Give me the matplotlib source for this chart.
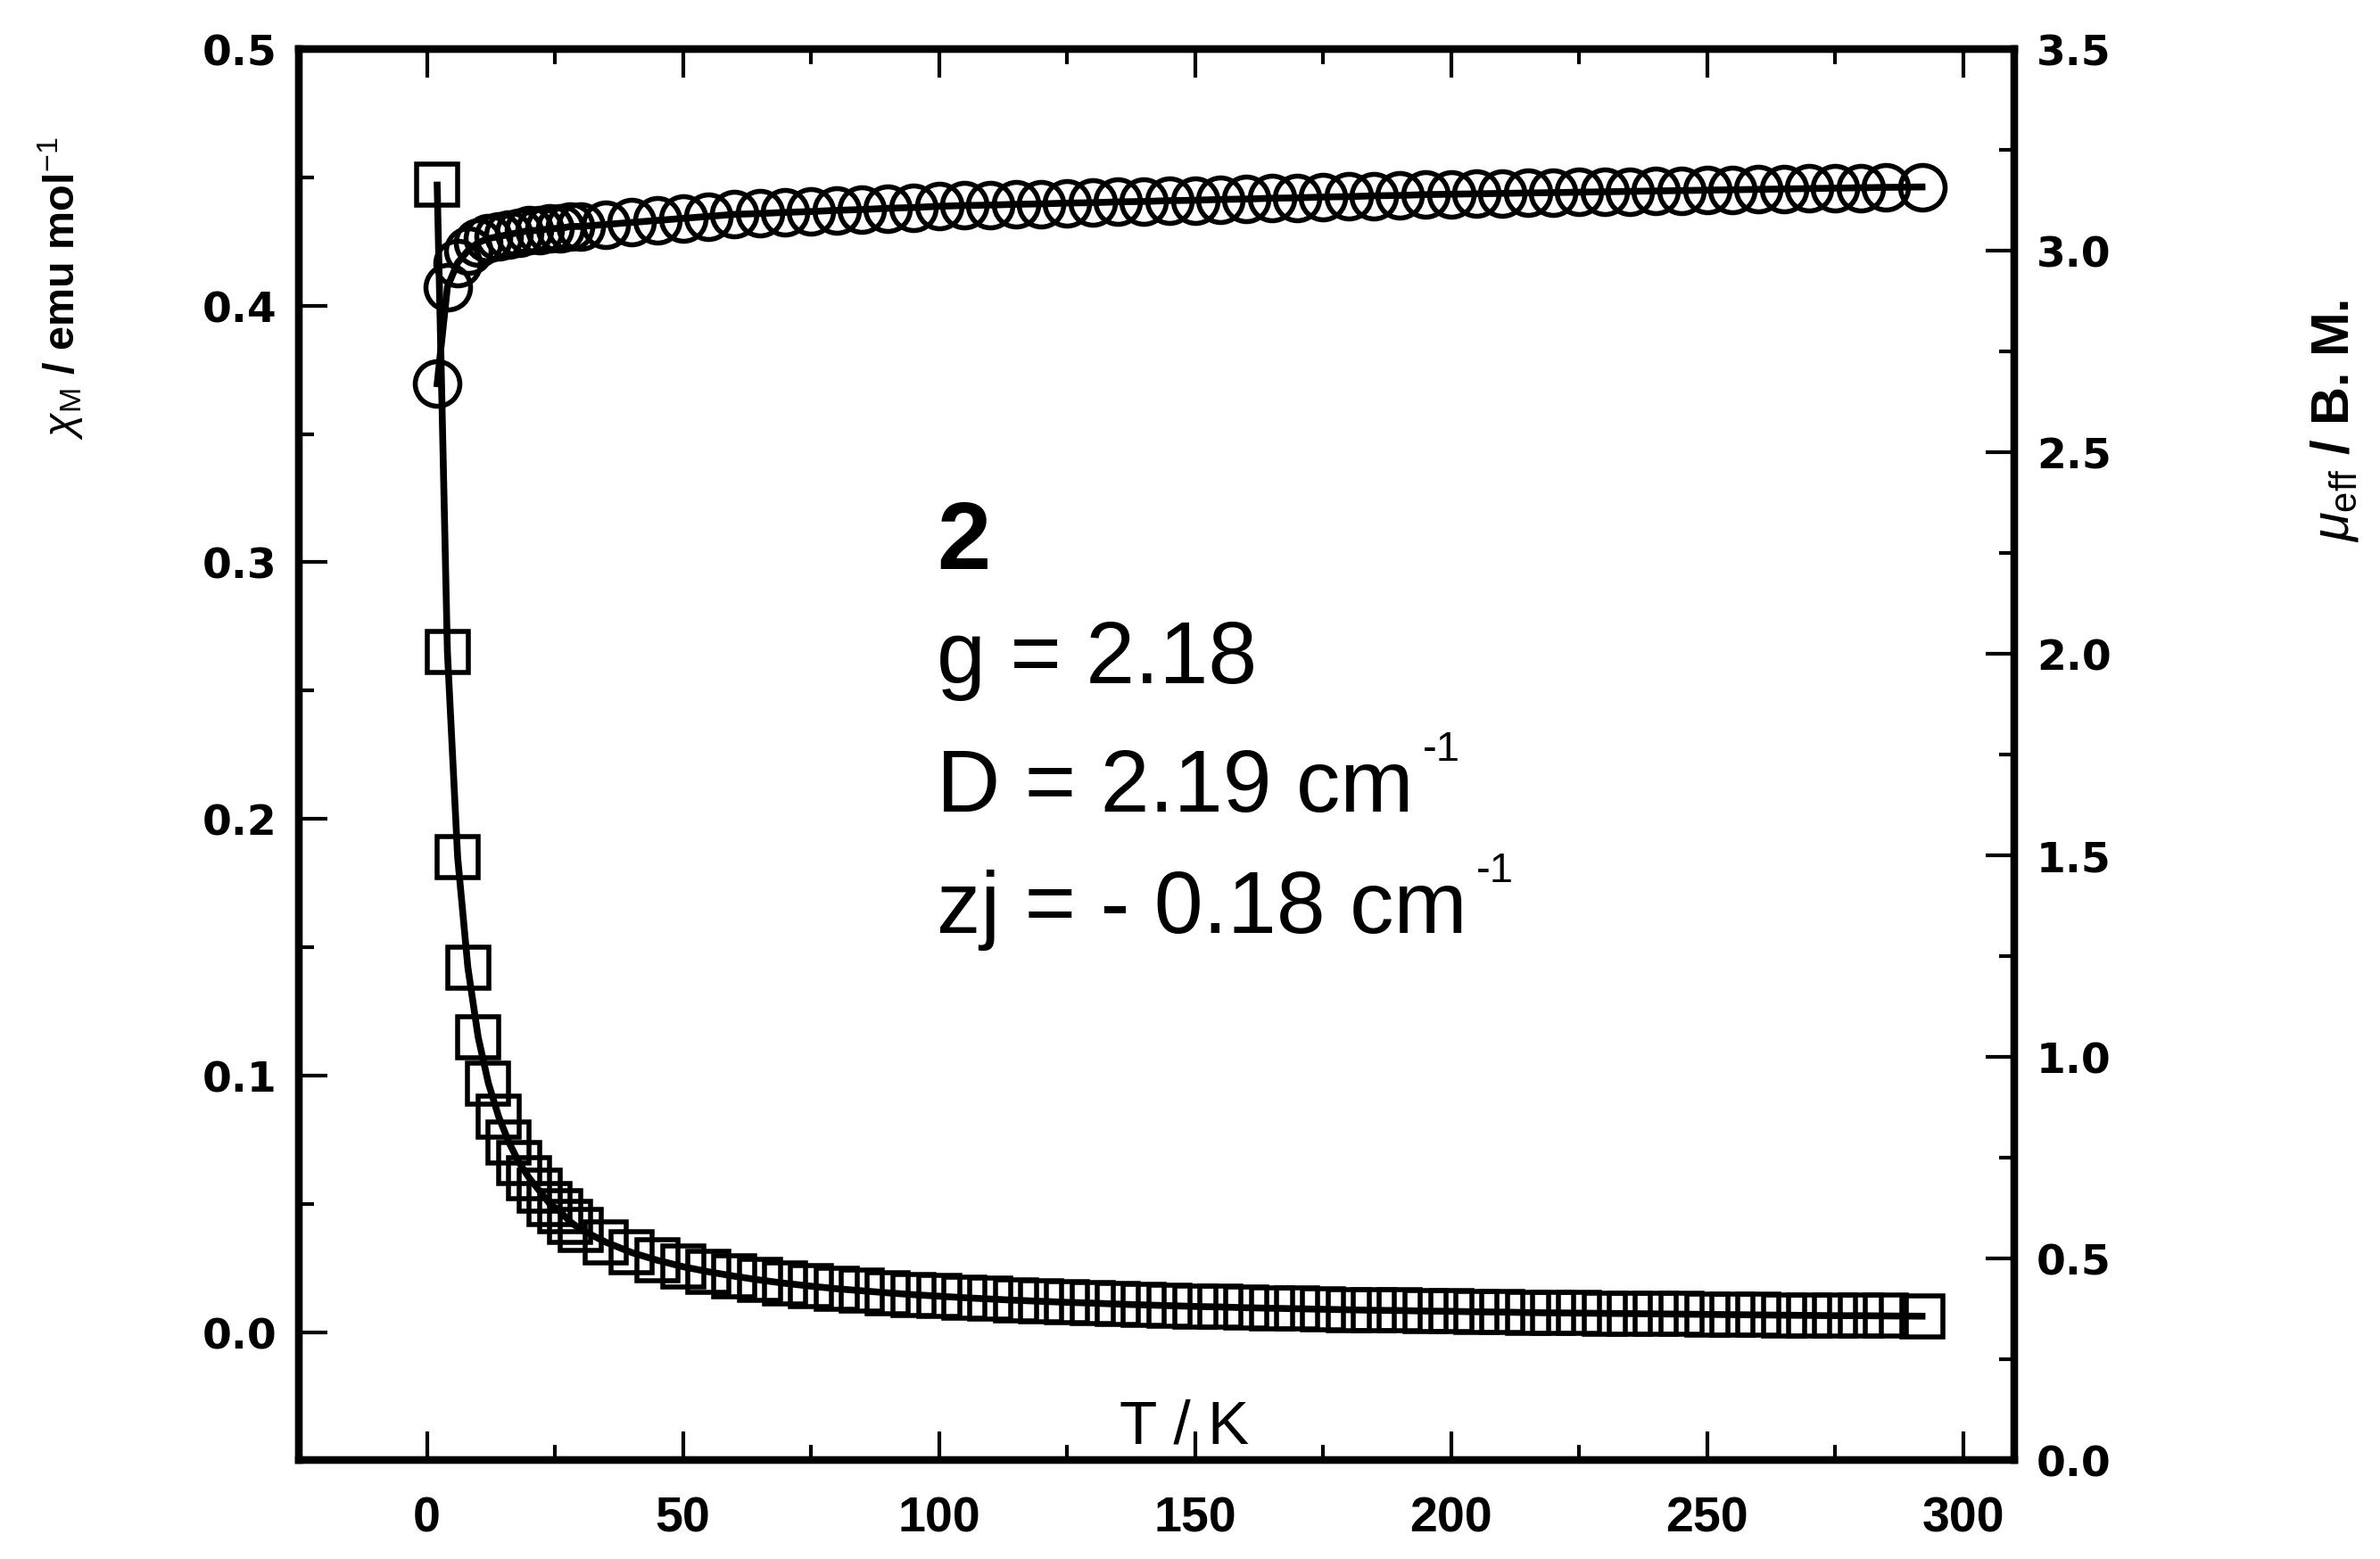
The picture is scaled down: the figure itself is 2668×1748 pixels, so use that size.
import matplotlib
matplotlib.use("Agg")
import matplotlib.pyplot as plt
import matplotlib.transforms as mtransforms
from matplotlib.ticker import MultipleLocator, FormatStrFormatter

# temperature points (K)
T = [2, 4, 6, 8, 10, 12, 14, 16, 18, 20, 22, 24, 26, 28, 30,
     35, 40, 45, 50, 55, 60, 65, 70, 75, 80, 85, 90, 95, 100,
     105, 110, 115, 120, 125, 130, 135, 140, 145, 150,
     155, 160, 165, 170, 175, 180, 185, 190, 195, 200,
     205, 210, 215, 220, 225, 230, 235, 240, 245, 250,
     255, 260, 265, 270, 275, 280, 285, 292]

# chi_M / emu mol-1 (squares, left axis)
chi = [0.447, 0.265, 0.185, 0.142, 0.115, 0.097, 0.084, 0.074, 0.066, 0.060,
       0.055, 0.050, 0.047, 0.043, 0.040,
       0.035, 0.031, 0.028, 0.0255, 0.0235, 0.0218, 0.0203, 0.019, 0.0179,
       0.0169, 0.0161, 0.0153, 0.0146, 0.014,
       0.0134, 0.0129, 0.0124, 0.012, 0.0116, 0.0113, 0.0109, 0.0106, 0.0103, 0.01,
       0.0098, 0.0095, 0.0093, 0.0091, 0.0089, 0.0087, 0.0085, 0.0084, 0.0082, 0.0081,
       0.0079, 0.0078, 0.0076, 0.0075, 0.0074, 0.0073, 0.0072, 0.0071, 0.007, 0.0069,
       0.0068, 0.0067, 0.0066, 0.0065, 0.0064, 0.0064, 0.0063, 0.0062]

# mu_eff / B.M. (circles, right axis)
mu = [2.67, 2.91, 2.97, 3.00, 3.02, 3.03, 3.035, 3.04, 3.045, 3.05,
      3.05, 3.055, 3.055, 3.06, 3.06,
      3.065, 3.07, 3.075, 3.08, 3.085, 3.09, 3.092, 3.095, 3.097,
      3.10, 3.102, 3.105, 3.107, 3.11,
      3.112, 3.113, 3.115, 3.116, 3.118, 3.119, 3.121, 3.122, 3.124, 3.125,
      3.127, 3.128, 3.13, 3.131, 3.133, 3.134, 3.136, 3.137, 3.139, 3.14,
      3.141, 3.142, 3.143, 3.144, 3.145, 3.146, 3.147, 3.148, 3.149, 3.15,
      3.151, 3.152, 3.153, 3.154, 3.155, 3.156, 3.157, 3.158]

fit_text = ["g = 2.18", "D = 2.19 cm", "zj = - 0.18 cm"]
fit_sup = [None, "-1", "-1"]

plt.rcParams['font.family'] = ['Liberation Sans', 'DejaVu Sans']
plt.rcParams['mathtext.fontset'] = 'custom'
plt.rcParams['mathtext.rm'] = 'Liberation Sans'
plt.rcParams['mathtext.it'] = 'Liberation Sans:italic'
plt.rcParams['mathtext.bf'] = 'Liberation Sans:bold'

fig = plt.figure(figsize=(26.68, 17.49), dpi=100)
ax = fig.add_axes([0.1256, 0.0632, 0.8463 - 0.1256, 0.968 - 0.0632])
ax2 = ax.twinx()

ax.plot(T, chi, '-', color='black', lw=5.5, marker='s', ms=33,
        mfc='none', mec='black', mew=4)
ax2.plot(T, mu, '-', color='black', lw=5.5, marker='o', ms=36,
         mfc='none', mec='black', mew=4)

ax.set_xlim(-25, 310)
ax.set_ylim(-0.05, 0.5)
ax2.set_ylim(0, 3.5)

ax.xaxis.set_major_locator(MultipleLocator(50))
ax.xaxis.set_minor_locator(MultipleLocator(25))
ax.yaxis.set_major_locator(MultipleLocator(0.1))
ax.yaxis.set_minor_locator(MultipleLocator(0.05))
ax.yaxis.set_major_formatter(FormatStrFormatter('%.1f'))
ax2.yaxis.set_major_locator(MultipleLocator(0.5))
ax2.yaxis.set_minor_locator(MultipleLocator(0.25))
ax2.yaxis.set_major_formatter(FormatStrFormatter('%.1f'))

for a in (ax, ax2):
    for s in a.spines.values():
        s.set_linewidth(6)

ax.tick_params(axis='x', which='both', direction='in', top=True, width=3,
               labelsize=40, pad=28)
ax.tick_params(axis='y', which='both', direction='in', right=False, width=3,
               labelsize=34, pad=18, labelfontfamily='DejaVu Sans')
ax2.tick_params(axis='y', which='both', direction='in', left=False, width=3,
                labelsize=34, pad=18, labelfontfamily='DejaVu Sans')
for a in (ax, ax2):
    a.tick_params(which='major', length=23)
    a.tick_params(which='minor', length=12)
for lab in ax.get_xticklabels() + ax.get_yticklabels() + ax2.get_yticklabels():
    lab.set_fontweight('bold')

ax.text(148, -0.043, "T / K", fontsize=50, ha='center', va='baseline')

fig.text(0.0255, 0.815, r"$\chi_{\mathrm{M}}$ / emu mol$^{-1}$", rotation=90,
         fontsize=35, fontweight='bold', ha='center', va='center')
fig.text(0.981, 0.730, r"$\mu_{\mathrm{eff}}$ / B. M.", rotation=90,
         fontsize=43, fontweight='bold', ha='center', va='center')

ax.text(0.372, 0.632, "2", transform=ax.transAxes, fontsize=78,
        fontweight='bold', va='baseline')
main = []
for txt, yy in zip(fit_text, [0.5515, 0.4605, 0.3746]):
    main.append((ax.text(0.372, yy, txt, transform=ax.transAxes,
                         fontsize=71, va='baseline'), yy))

# small "-1" superscripts placed after the measured text end
fig.canvas.draw()
rend = fig.canvas.get_renderer()
digit_h = 0.716 * 71 * fig.dpi / 72
for (t, yy), sup in zip(main, fit_sup):
    if sup is None:
        continue
    bb = t.get_window_extent(renderer=rend)
    base = ax.transAxes.transform((0.372, yy))[1]
    fig.text(bb.x1 + 10, base + 0.8 * digit_h, sup, fontsize=34,
             va='baseline', transform=mtransforms.IdentityTransform())

fig.savefig('out.png', dpi=100)
